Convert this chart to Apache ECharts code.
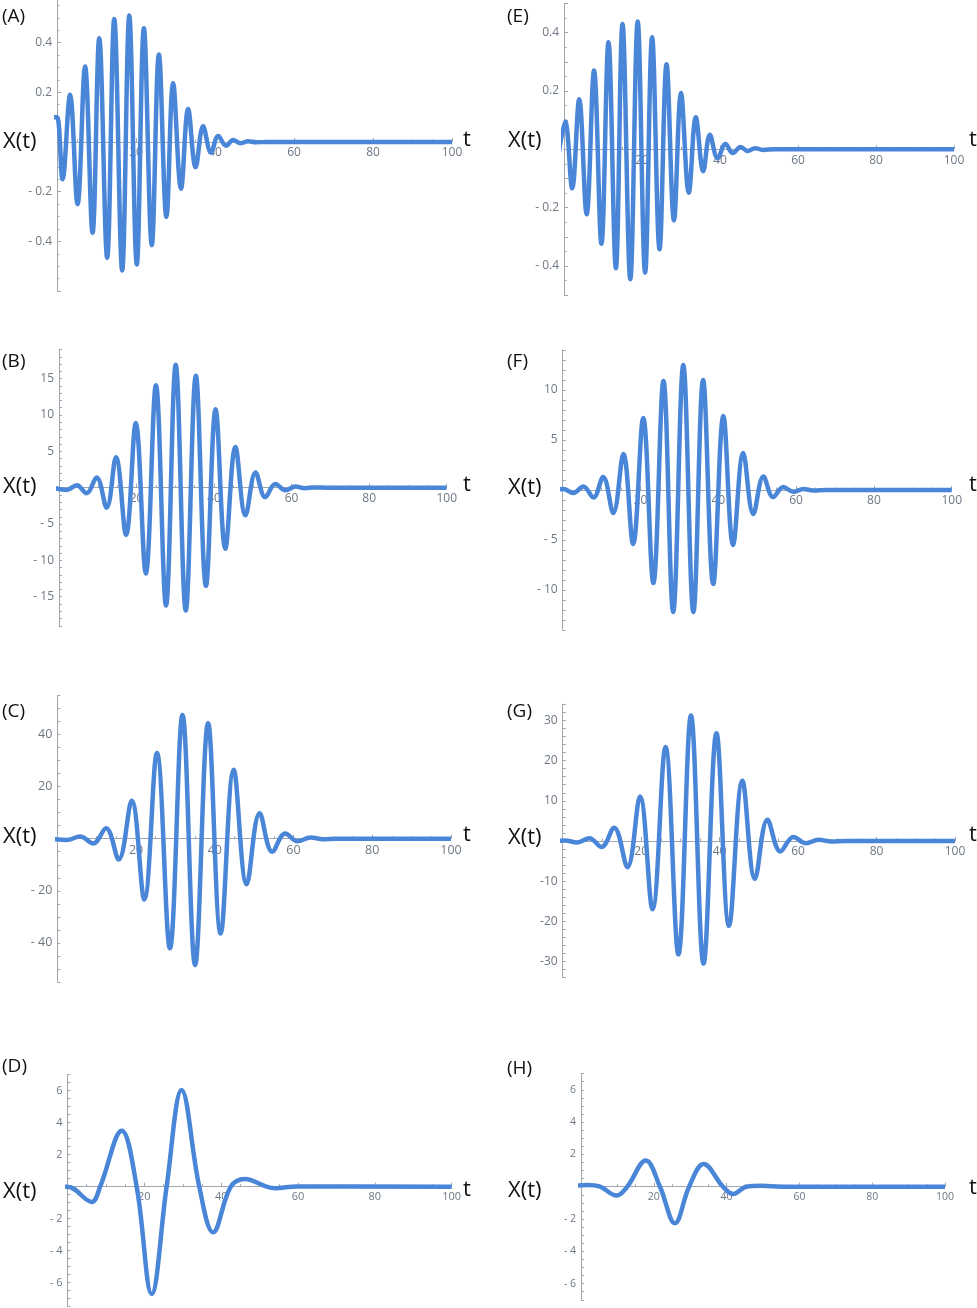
<!DOCTYPE html>
<html>
<head>
<meta charset="utf-8">
<script src="https://cdn.jsdelivr.net/npm/echarts@6/dist/echarts.min.js"></script>
<style>
  html, body { margin: 0; padding: 0; background: #fff; }
  #chart { width: 977px; height: 1308px; }
</style>
</head>
<body>
<div id="chart"></div>
<script>
// [t, X(t)]: peaks, troughs, a few crossings, then the flat tail
const waveA = [[-1, 0.1], [0, 0.1], [1.4, -0.15], [3.3, 0.19], [5.2, -0.25], [7.1, 0.304], [9.0, -0.365], [10.7, 0.418], [12.7, -0.466], [14.5, 0.495], [16.5, -0.517], [18.3, 0.509], [20.2, -0.493], [22.0, 0.458], [24.0, -0.415], [25.8, 0.352], [27.7, -0.301], [29.4, 0.236], [31.4, -0.188], [33.2, 0.133], [35.1, -0.101], [37.0, 0.063], [39.0, -0.043], [40.8, 0.024], [42.8, -0.015], [44.6, 0.008], [46.5, -0.005], [48.4, 0.003], [50.3, -0.001], [53, 0], [100, 0]];
const waveB = [[-1.5, 0], [2.0, -0.3], [4.6, 0.35], [7.1, -0.75], [9.7, 1.4], [12.3, -2.75], [14.7, 4.2], [17.3, -6.5], [19.8, 8.9], [22.4, -11.8], [25.0, 14.1], [27.6, -16.2], [30.1, 16.9], [32.7, -16.9], [35.3, 15.4], [37.9, -13.5], [40.4, 10.8], [42.9, -8.4], [45.5, 5.6], [48.1, -3.8], [50.7, 2.1], [53.2, -1.3], [55.8, 0.5], [58.4, -0.35], [61.0, 0.15], [63.4, -0.07], [65.9, 0.03], [69, 0], [100, 0]];
const waveC = [[-2.0, 0], [2.4, -0.5], [5.8, 0.8], [9.1, -1.8], [12.4, 4.0], [15.6, -8.0], [18.9, 14.6], [22.1, -23.3], [25.3, 32.9], [28.6, -42.1], [31.8, 47.5], [35.0, -48.5], [38.3, 44.3], [41.5, -36.4], [44.8, 26.5], [48.1, -17.5], [51.4, 9.8], [54.6, -5.0], [57.9, 2.0], [61.0, -1.0], [64.3, 0.5], [67.5, -0.2], [71, 0], [100, 0]];
const waveD = [[-6.0, 0], [0, 0], [6.3, -0.95], [8.5, 0], [14.1, 3.5], [18.0, 0], [21.9, -6.7], [25.8, 0], [29.7, 6.05], [34.3, 0], [37.9, -2.85], [42.5, 0], [46.2, 0.48], [51.8, 0], [54.0, -0.1], [59.6, 0.02], [100, 0]];
const waveE = [[-1.3, -0.01], [0.3, 0.095], [2.1, -0.134], [3.9, 0.172], [5.8, -0.223], [7.7, 0.27], [9.6, -0.324], [11.4, 0.367], [13.3, -0.408], [15.0, 0.43], [17.0, -0.446], [18.9, 0.438], [20.8, -0.423], [22.6, 0.384], [24.5, -0.343], [26.3, 0.292], [28.2, -0.244], [30.0, 0.193], [32.0, -0.149], [33.8, 0.11], [35.7, -0.075], [37.4, 0.05], [39.4, -0.031], [41.4, 0.018], [43.3, -0.013], [45.3, 0.008], [47.1, -0.006], [49.0, 0.004], [51.0, -0.002], [54, 0], [100, 0]];
const waveF = [[-2.0, 0], [0.2, 0.1], [2.7, -0.3], [5.3, 0.35], [7.9, -0.75], [10.4, 1.3], [13.0, -2.3], [15.6, 3.6], [18.1, -5.4], [20.7, 7.2], [23.3, -9.3], [25.9, 10.9], [28.4, -12.2], [31.0, 12.5], [33.6, -12.2], [36.1, 11.0], [38.7, -9.4], [41.3, 7.4], [43.8, -5.5], [46.4, 3.7], [49.0, -2.4], [51.6, 1.35], [54.1, -0.7], [56.7, 0.3], [59.3, -0.18], [61.9, 0.1], [64.4, -0.04], [68, 0], [100, 0]];
const waveG = [[-2.4, 0.05], [0.6, 0.1], [3.7, -0.35], [6.8, 0.7], [9.9, -1.5], [13.1, 3.3], [16.5, -6.5], [19.7, 11.1], [22.9, -17.0], [26.2, 23.4], [29.5, -28.2], [32.7, 31.2], [35.9, -30.5], [39.2, 26.8], [42.4, -21.1], [45.8, 15.0], [49.0, -9.4], [52.2, 5.3], [55.5, -2.6], [58.8, 1.0], [62.0, -0.55], [65.2, 0.3], [68.5, -0.1], [72, 0], [100, 0]];
const waveH = [[-6.4, -0.05], [1.6, 0.1], [5.2, 0], [9.8, -0.55], [12.7, 0], [17.8, 1.62], [21.7, 0], [25.8, -2.26], [29.7, 0], [33.7, 1.41], [39.0, 0], [41.8, -0.45], [45.4, 0], [49.6, 0.06], [55, 0], [100, 0]];

// tick labels
const xLabels = [20, 40, 60, 80, 100];
const yLabelsA = [-0.4, -0.2, 0.2, 0.4];
const yLabelsB = [-15, -10, -5, 5, 10, 15];
const yLabelsC = [-40, -20, 20, 40];
const yLabelsD = [-6, -4, -2, 2, 4, 6];
const yLabelsE = [-0.4, -0.2, 0.2, 0.4];
const yLabelsF = [-10, -5, 5, 10];
const yLabelsG = [-30, -20, -10, 10, 20, 30];
const yLabelsH = [-6, -4, -2, 2, 4, 6];

const panels = [
    { tag: '(A)', data: waveA, labels: yLabelsA, col: 0, yMin: -0.6, yMax: 0.6, yStep: 0.2, yMinor: 4, x0: 57, x100: 452, y0: 142, ppu: 248.5, tagY: 17, xtY: 142, tY: 140, fs: 12, neg: '- ' },
    { tag: '(B)', data: waveB, labels: yLabelsB, col: 0, yMin: -19, yMax: 19, yStep: 1, yMinor: 0, x0: 59, x100: 446.7, y0: 487.7, ppu: 7.27, tagY: 362, xtY: 487, tY: 485, fs: 12, neg: '- ' },
    { tag: '(C)', data: waveC, labels: yLabelsC, col: 0, yMin: -55, yMax: 55, yStep: 5, yMinor: 0, x0: 57.3, x100: 451, y0: 838.7, ppu: 2.605, tagY: 712, xtY: 837, tY: 835, fs: 12.5, neg: '- ' },
    { tag: '(D)', data: waveD, labels: yLabelsD, col: 0, yMin: -7.5, yMax: 7, yStep: 0.5, yMinor: 0, x0: 67.5, x100: 451.7, y0: 1186.7, ppu: 16, tagY: 1067, xtY: 1192, tY: 1190, fs: 11, neg: '- ' },
    { tag: '(E)', data: waveE, labels: yLabelsE, col: 1, yMin: -0.5, yMax: 0.5, yStep: 0.1, yMinor: 2, x0: 564, x100: 954, y0: 149.3, ppu: 291.5, tagY: 17, xtY: 141, tY: 140, fs: 12, neg: '- ' },
    { tag: '(F)', data: waveF, labels: yLabelsF, col: 1, yMin: -14, yMax: 14, yStep: 1, yMinor: 0, x0: 562.7, x100: 951.7, y0: 490, ppu: 10, tagY: 362, xtY: 488, tY: 485, fs: 12, neg: '- ' },
    { tag: '(G)', data: waveG, labels: yLabelsG, col: 1, yMin: -34, yMax: 34, yStep: 2, yMinor: 0, x0: 562.7, x100: 955, y0: 841, ppu: 4.02, tagY: 712, xtY: 838, tY: 835, fs: 12, neg: '-' },
    { tag: '(H)', data: waveH, labels: yLabelsH, col: 1, yMin: -7, yMax: 7, yStep: 0.5, yMinor: 0, x0: 581, x100: 945, y0: 1186.7, ppu: 16.15, tagY: 1069, xtY: 1191, tY: 1188, fs: 10.5, neg: '- ' }
];

const AXIS = '#9ea7b0';
const LABEL = '#6d7884';
const LINE = '#4a86d8';
const FONT = '"Open Sans", "Noto Sans", sans-serif';

const findLabel = (list, v) => list.findIndex(l => Math.abs(l - v) < 1e-6);

const grids = [], xAxes = [], yAxes = [], series = [], texts = [];

panels.forEach((p, i) => {
    grids.push({
        left: p.x0,
        width: p.x100 - p.x0,
        top: p.y0 - p.yMax * p.ppu,
        height: (p.yMax - p.yMin) * p.ppu,
        outerBoundsMode: 'none'
    });
    // x axis sits on X = 0: pull it up from the grid bottom
    xAxes.push({
        gridIndex: i,
        type: 'value',
        position: 'bottom',
        offset: p.yMin * p.ppu,
        min: 0,
        max: 100,
        interval: 20,
        axisLine: { onZero: false, lineStyle: { color: AXIS, width: 1 } },
        axisTick: { inside: true, length: 4, lineStyle: { color: AXIS } },
        minorTick: { show: true, splitNumber: 4, length: 2.5, lineStyle: { color: AXIS } },
        splitLine: { show: false },
        axisLabel: {
            color: LABEL, fontSize: p.fs, fontFamily: FONT, margin: 5,
            formatter: v => findLabel(xLabels, v) >= 0 ? String(v) : ''
        }
    });
    yAxes.push({
        gridIndex: i,
        type: 'value',
        min: p.yMin,
        max: p.yMax,
        interval: p.yStep,
        axisLine: { show: true, onZero: false, lineStyle: { color: AXIS, width: 1 } },
        axisTick: { inside: true, length: p.yMinor ? 4 : 3, lineStyle: { color: AXIS } },
        minorTick: { show: p.yMinor > 0, splitNumber: p.yMinor || 5, length: 2.5, lineStyle: { color: AXIS } },
        splitLine: { show: false },
        axisLabel: {
            color: LABEL, fontSize: p.fs, fontFamily: FONT, margin: 5,
            formatter: v => {
                const k = findLabel(p.labels, v);
                if (k < 0) return '';
                const l = p.labels[k];
                return l < 0 ? p.neg + String(-l) : String(l);
            }
        }
    });
    series.push({
        type: 'line',
        xAxisIndex: i,
        yAxisIndex: i,
        data: p.data,
        smooth: 0.38,
        showSymbol: false,
        clip: false,
        z: 5,
        lineStyle: { color: LINE, width: 4.5 }
    });

    const left = p.col === 0 ? 0 : 505;
    texts.push(
        { type: 'text', x: left + 2, y: p.tagY, style: { text: p.tag, font: '19px ' + FONT, fill: '#111', verticalAlign: 'middle' } },
        { type: 'text', x: left + 3, y: p.xtY, style: { text: 'X(t)', font: '22px ' + FONT, fill: '#111', verticalAlign: 'middle' } },
        { type: 'text', x: p.col === 0 ? 463 : 969, y: p.tY, style: { text: 't', font: '22px ' + FONT, fill: '#111', verticalAlign: 'middle' } }
    );
});

const chart = echarts.init(document.getElementById('chart'), null, { renderer: 'canvas' });
chart.setOption({
    animation: false,
    backgroundColor: '#fff',
    grid: grids,
    xAxis: xAxes,
    yAxis: yAxes,
    series: series,
    graphic: texts
});
</script>
</body>
</html>
